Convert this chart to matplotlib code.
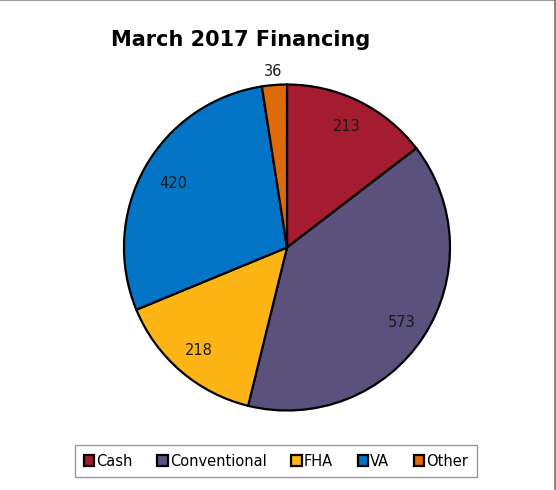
import numpy as np
import matplotlib
matplotlib.use("Agg")
from matplotlib import pyplot as plt

categories = ["Cash", "Conventional", "FHA", "VA", "Other"]
values = [213, 573, 218, 420, 36]
colors = ["#A51B30", "#5A527D", "#FDB515", "#0374C6", "#DD6A0B"]
# the small slice gets its label outside the pie
label_dist = [0.83, 0.84, 0.83, 0.80, 1.08]

W, H = 556, 490
fig = plt.figure(figsize=(W / 100, H / 100), dpi=100)

# pie axes: square, in pixel terms
cx, cy, r = 287, 247.5, 163
ax = fig.add_axes([(cx - r) / W, (H - cy - r) / H, 2 * r / W, 2 * r / H])
wedges, _ = ax.pie(values, colors=colors, startangle=90, counterclock=False,
                   wedgeprops=dict(edgecolor="black", linewidth=1.6))
ax.set_xlim(-1, 1)
ax.set_ylim(-1, 1)
ax.set_aspect("equal")
ax.axis("off")

for w, v, d in zip(wedges, values, label_dist):
    ang = np.deg2rad((w.theta1 + w.theta2) / 2)
    ax.text(d * np.cos(ang), d * np.sin(ang), str(v), ha="center", va="center",
            fontsize=10.5, color="#1a1a1a")

fig.text(241 / W, 1 - 40 / H, "March 2017 Financing", ha="center", va="center",
         fontsize=15, fontweight="bold")

leg = fig.legend(wedges, categories, loc="center", bbox_to_anchor=(276 / W, 1 - 461 / H),
                 ncol=5, frameon=True, fancybox=False, fontsize=10.5,
                 handlelength=0.7, handleheight=0.7, handletextpad=0.15,
                 columnspacing=1.7, borderpad=0.6)
leg.get_frame().set_edgecolor("#808080")
leg.get_frame().set_linewidth(1.0)

# outer border (top and right)
fig.add_artist(plt.Line2D([0, 1], [0.999, 0.999], color="#999999", lw=1.5,
                          transform=fig.transFigure))
fig.add_artist(plt.Line2D([1 - 0.8 / W, 1 - 0.8 / W], [0, 1], color="#808080", lw=2,
                          transform=fig.transFigure))

fig.savefig("out.png", dpi=100)
